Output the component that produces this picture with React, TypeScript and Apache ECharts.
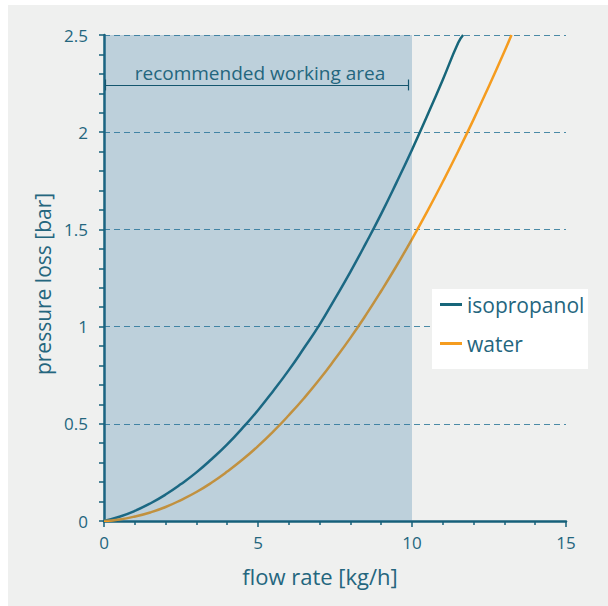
import React, { useEffect, useRef } from "react";
import * as echarts from "echarts";

const flowRate = [0, 0.5, 1, 1.5, 2, 2.5, 3, 3.5, 4, 4.5, 5, 5.5, 6, 6.5, 7, 7.5, 8, 8.5, 9, 9.5, 10, 10.5, 11, 11.5, 12, 12.5, 13];
const isopropanolLoss = [0, 0.022, 0.052, 0.09, 0.136, 0.19, 0.25, 0.319, 0.394, 0.479, 0.57, 0.67, 0.776, 0.891, 1.01, 1.144, 1.282, 1.428, 1.58, 1.742, 1.91, 2.087, 2.27, 2.46];
const isopropanolEnd: [number, number] = [11.66, 2.5];
const waterLoss = [0, 0.008, 0.023, 0.044, 0.072, 0.108, 0.149, 0.198, 0.254, 0.316, 0.385, 0.461, 0.544, 0.633, 0.729, 0.833, 0.942, 1.059, 1.183, 1.313, 1.45, 1.594, 1.745, 1.902, 2.066, 2.238, 2.415];
const waterEnd: [number, number] = [13.23, 2.5];
const workingArea = [0, 10];
const workingLabel = "recommended working area";
const seriesNames = ["isopropanol", "water"];

const TEAL = "#17667a";
const ORANGE = "#f59c1f";
const TEXT = "#24667e";
const AXIS = "#16607a";
const FONT = "'Open Sans', 'Noto Sans', sans-serif";

export default function App() {
  const ref = useRef<HTMLDivElement>(null);
  useEffect(() => {
    if (!ref.current) return;
    const chart = echarts.init(ref.current, undefined, { renderer: "svg" });
    const iso = isopropanolLoss.map((v, i) => [flowRate[i], v]);
    iso.push(isopropanolEnd);
    const wat = waterLoss.map((v, i) => [flowRate[i], v]);
    wat.push(waterEnd);
    const dimY = 2.243;
    chart.setOption({
      animation: false,
      backgroundColor: "#eff0ef",
      textStyle: { fontFamily: FONT },
      grid: { left: 96, top: 30, right: 42, bottom: 85 },
      xAxis: {
        type: "value",
        min: 0,
        max: 15,
        interval: 5,
        name: "flow rate [kg/h]",
        nameLocation: "middle",
        nameGap: 44,
        nameTextStyle: { color: TEXT, fontSize: 22, fontFamily: FONT, padding: [0, 30, 0, 0] },
        axisLine: { show: true, lineStyle: { color: AXIS, width: 2.5 } },
        axisTick: { show: true, length: 6, lineStyle: { color: AXIS, width: 1.5 } },
        minorTick: { show: true, splitNumber: 5, length: 4, lineStyle: { color: AXIS, width: 1.5 } },
        axisLabel: { color: TEXT, fontSize: 17, margin: 13, fontFamily: FONT },
        splitLine: { show: false },
      },
      yAxis: {
        type: "value",
        min: 0,
        max: 2.5,
        interval: 0.5,
        name: "pressure loss [bar]",
        nameLocation: "middle",
        nameGap: 47,
        nameTextStyle: { color: TEXT, fontSize: 21, fontFamily: FONT, padding: [0, 12, 0, 0] },
        axisLine: { show: true, lineStyle: { color: AXIS, width: 2.5 } },
        axisTick: { show: true, length: 5, lineStyle: { color: AXIS, width: 1.5 } },
        minorTick: { show: true, splitNumber: 5, length: 5, lineStyle: { color: AXIS, width: 1.5 } },
        axisLabel: { color: TEXT, fontSize: 17, margin: 16, fontFamily: FONT },
        splitLine: { show: true, lineStyle: { color: "#4a8aa6", width: 1, type: [6, 4] } },
      },
      legend: {
        data: seriesNames,
        orient: "vertical",
        left: 432,
        top: 289,
        padding: 0,
        itemWidth: 22,
        itemHeight: 3,
        itemGap: 18,
        icon: "rect",
        z: 20,
        textStyle: { color: TEXT, fontSize: 21, fontFamily: FONT },
      },
      graphic: [
        {
          type: "rect",
          left: 424,
          top: 284,
          shape: { width: 156, height: 80 },
          style: { fill: "#ffffff" },
          z: 10,
        },
      ],
      series: [
        {
          name: seriesNames[0],
          type: "line",
          data: iso,
          smooth: true,
          showSymbol: false,
          lineStyle: { color: TEAL, width: 2.5 },
          itemStyle: { color: TEAL },
          z: 2,
        },
        {
          name: seriesNames[1],
          type: "line",
          data: wat,
          smooth: true,
          showSymbol: false,
          lineStyle: { color: ORANGE, width: 2.5 },
          itemStyle: { color: ORANGE },
          z: 2,
        },
        {
          name: "area",
          type: "line",
          data: [],
          silent: true,
          z: 5,
          markArea: {
            silent: true,
            z: 10,
            itemStyle: { color: "rgba(40,110,160,0.25)" },
            data: [[{ xAxis: workingArea[0], yAxis: 0 }, { xAxis: workingArea[1], yAxis: 2.5 }]],
          },
          markLine: {
            silent: true,
            z: 11,
            symbol: ["none", "none"],
            lineStyle: { color: "#15566e", width: 1.2, type: "solid" },
            label: { show: false },
            data: [
              [
                {
                  coord: [0.03, dimY],
                  label: {
                    show: true,
                    position: "insideMiddleTop",
                    formatter: workingLabel,
                    color: TEXT,
                    fontSize: 19,
                    fontFamily: FONT,
                    distance: 2,
                    padding: [0, 0, 0, 7],
                  },
                },
                { coord: [9.87, dimY] },
              ],
              [{ coord: [0.03, dimY - 0.028] }, { coord: [0.03, dimY + 0.028] }],
              [{ coord: [9.87, dimY - 0.028] }, { coord: [9.87, dimY + 0.028] }],
            ],
          },
        },
      ],
    });
    return () => chart.dispose();
  }, []);
  return (
    <div
      ref={ref}
      style={{ position: "absolute", left: 8, top: 5, width: 600, height: 601 }}
    />
  );
}
